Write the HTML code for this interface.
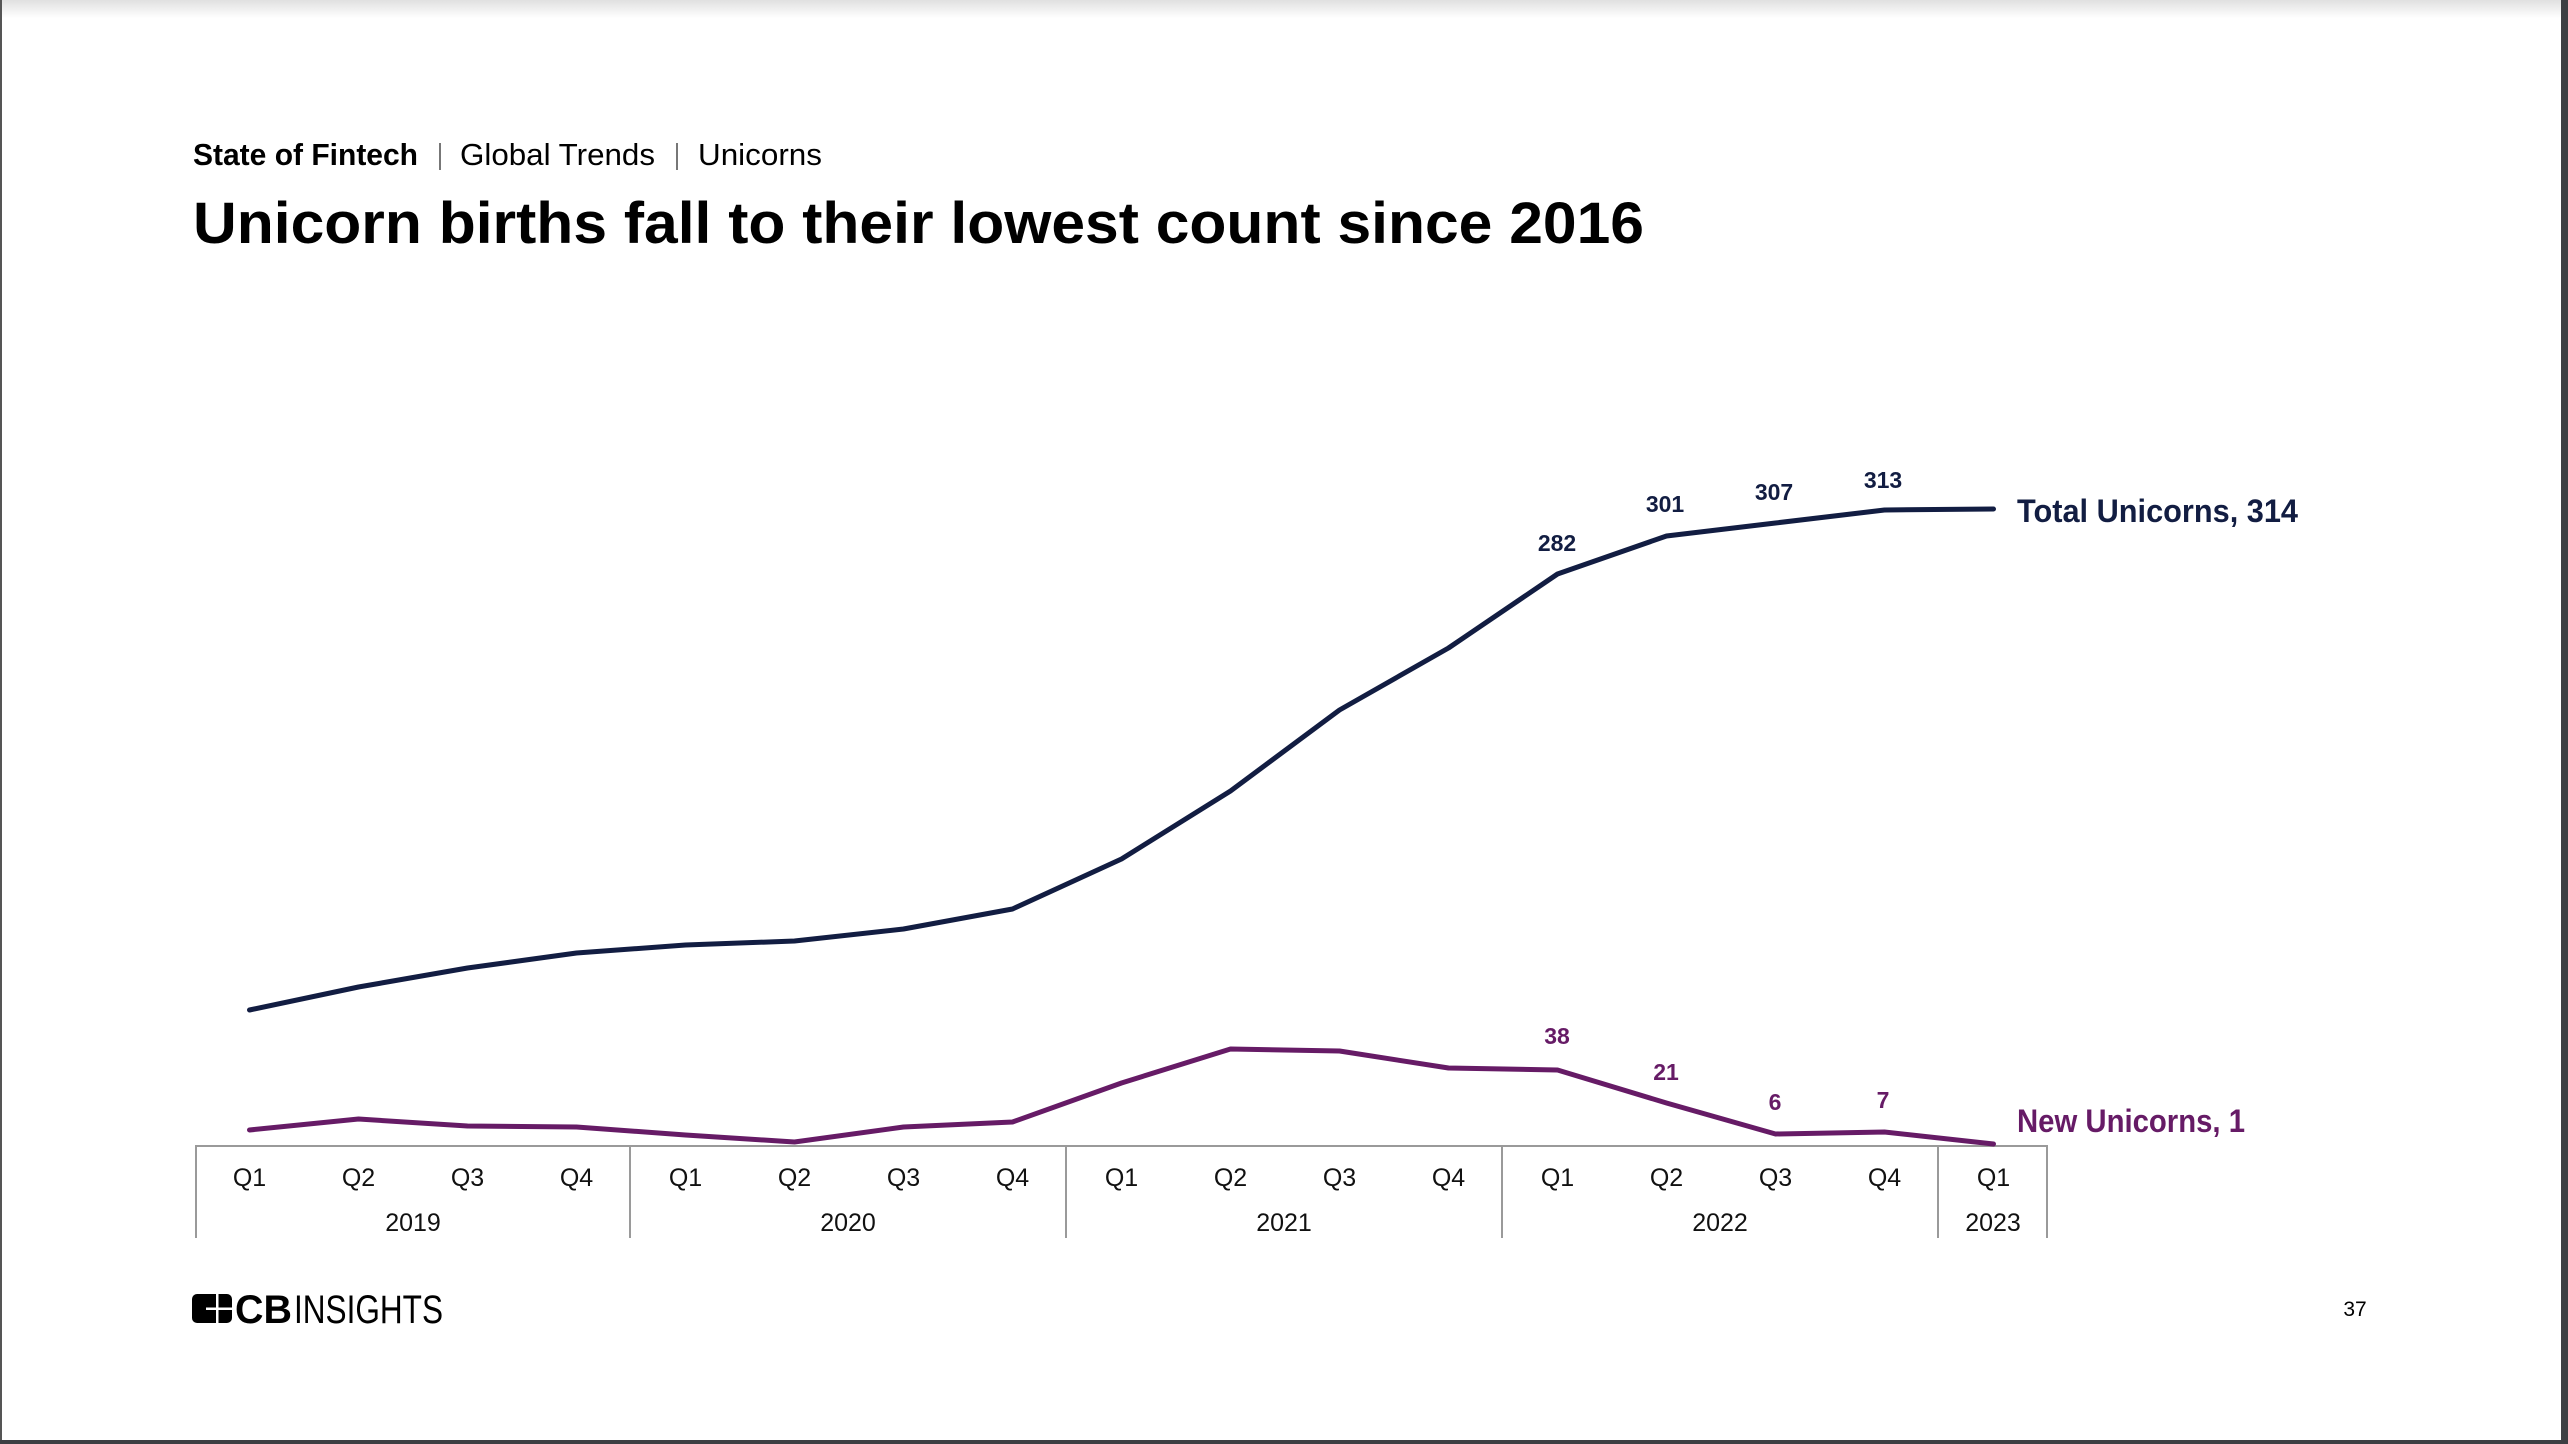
<!DOCTYPE html>
<html>
<head>
<meta charset="utf-8">
<style>
  html, body { margin: 0; padding: 0; background: #fff; }
  body { width: 2568px; height: 1444px; overflow: hidden; }
  svg { display: block; }
  text { font-family: "Liberation Sans", Arial, sans-serif; }
</style>
</head>
<body>
<svg width="2568" height="1444" viewBox="0 0 2568 1444" xmlns="http://www.w3.org/2000/svg">
  <defs>
    <linearGradient id="topShade" x1="0" y1="0" x2="0" y2="1">
      <stop offset="0" stop-color="#e0e0e0"/>
      <stop offset="1" stop-color="#ffffff"/>
    </linearGradient>
  </defs>
  <rect x="0" y="0" width="2568" height="1444" fill="#ffffff"/>
  <rect x="0" y="0" width="2568" height="18" fill="url(#topShade)"/>
  <!-- frame borders -->
  <rect x="0" y="0" width="2" height="1444" fill="#555555"/>
  <rect x="2561" y="0" width="7" height="1444" fill="#3d3f43"/>
  <rect x="0" y="1440" width="2568" height="4" fill="#3d3f43"/>

  <!-- header -->
  <text x="193" y="165" font-size="31" font-weight="bold" fill="#000" textLength="225" lengthAdjust="spacingAndGlyphs">State of Fintech</text>
  <line x1="440" y1="143" x2="440" y2="170" stroke="#777777" stroke-width="2"/>
  <text x="460" y="165" font-size="31" fill="#000" textLength="195" lengthAdjust="spacingAndGlyphs">Global Trends</text>
  <line x1="677" y1="143" x2="677" y2="170" stroke="#777777" stroke-width="2"/>
  <text x="698" y="165" font-size="31" fill="#000" textLength="124" lengthAdjust="spacingAndGlyphs">Unicorns</text>

  <text x="193" y="243" font-size="58" font-weight="bold" fill="#000" textLength="1451" lengthAdjust="spacingAndGlyphs">Unicorn births fall to their lowest count since 2016</text>

  <!-- axis box -->
  <g stroke="#9a9a9a" stroke-width="2" fill="none">
    <line x1="195" y1="1146" x2="2048" y2="1146"/>
    <line x1="196" y1="1146" x2="196" y2="1238"/>
    <line x1="630" y1="1146" x2="630" y2="1238"/>
    <line x1="1066" y1="1146" x2="1066" y2="1238"/>
    <line x1="1502" y1="1146" x2="1502" y2="1238"/>
    <line x1="1938" y1="1146" x2="1938" y2="1238"/>
    <line x1="2047" y1="1146" x2="2047" y2="1238"/>
  </g>

  <!-- quarter labels -->
  <g font-size="25" fill="#111" text-anchor="middle">
    <text x="249.5" y="1186">Q1</text>
    <text x="358.5" y="1186">Q2</text>
    <text x="467.5" y="1186">Q3</text>
    <text x="576.5" y="1186">Q4</text>
    <text x="685.5" y="1186">Q1</text>
    <text x="794.5" y="1186">Q2</text>
    <text x="903.5" y="1186">Q3</text>
    <text x="1012.5" y="1186">Q4</text>
    <text x="1121.5" y="1186">Q1</text>
    <text x="1230.5" y="1186">Q2</text>
    <text x="1339.5" y="1186">Q3</text>
    <text x="1448.5" y="1186">Q4</text>
    <text x="1557.5" y="1186">Q1</text>
    <text x="1666.5" y="1186">Q2</text>
    <text x="1775.5" y="1186">Q3</text>
    <text x="1884.5" y="1186">Q4</text>
    <text x="1993.5" y="1186">Q1</text>
  </g>
  <g font-size="25" fill="#111" text-anchor="middle">
    <text x="413" y="1231">2019</text>
    <text x="848" y="1231">2020</text>
    <text x="1284" y="1231">2021</text>
    <text x="1720" y="1231">2022</text>
    <text x="1993" y="1231">2023</text>
  </g>

  <!-- Total unicorns line -->
  <polyline fill="none" stroke="#121d42" stroke-width="5" stroke-linecap="round" stroke-linejoin="round"
    points="249.5,1010 358.5,987 467.5,968 576.5,953 685.5,945 794.5,941 903.5,929 1012.5,909 1121.5,859 1230.5,791 1339.5,710 1448.5,648 1557.5,574 1666.5,536 1775.5,523 1884.5,510 1993.5,509"/>

  <!-- New unicorns line -->
  <polyline fill="none" stroke="#661b66" stroke-width="5" stroke-linecap="round" stroke-linejoin="round"
    points="249.5,1130 358.5,1119 467.5,1126 576.5,1127 685.5,1135 794.5,1142 903.5,1127 1012.5,1122 1121.5,1083 1230.5,1049 1339.5,1051 1448.5,1068 1557.5,1070 1666.5,1103 1775.5,1134 1884.5,1132 1993.5,1144"/>

  <!-- data labels total -->
  <g font-size="23" font-weight="bold" fill="#121d42" text-anchor="middle">
    <text x="1557" y="551">282</text>
    <text x="1665" y="512">301</text>
    <text x="1774" y="500">307</text>
    <text x="1883" y="488">313</text>
  </g>
  <!-- data labels new -->
  <g font-size="23" font-weight="bold" fill="#661b66" text-anchor="middle">
    <text x="1557" y="1044">38</text>
    <text x="1666" y="1080">21</text>
    <text x="1775" y="1110">6</text>
    <text x="1883" y="1108">7</text>
  </g>

  <!-- series labels -->
  <text x="2017" y="522" font-size="32" font-weight="bold" fill="#121d42" textLength="281" lengthAdjust="spacingAndGlyphs">Total Unicorns, 314</text>
  <text x="2017" y="1132" font-size="32" font-weight="bold" fill="#661b66" textLength="228" lengthAdjust="spacingAndGlyphs">New Unicorns, 1</text>

  <!-- logo -->
  <g>
    <rect x="192" y="1294" width="40" height="29" rx="5" ry="5" fill="#000"/>
    <rect x="216" y="1294" width="2.5" height="29" fill="#fff"/>
    <rect x="206" y="1307.5" width="26" height="2.5" fill="#fff"/>
  </g>
  <text x="235" y="1323" font-size="40" font-weight="bold" fill="#000" textLength="57" lengthAdjust="spacingAndGlyphs">CB</text>
  <text x="294" y="1323" font-size="40" fill="#000" textLength="149" lengthAdjust="spacingAndGlyphs">INSIGHTS</text>

  <!-- page number -->
  <text x="2355" y="1316" font-size="21" fill="#000" text-anchor="middle">37</text>
</svg>
</body>
</html>
